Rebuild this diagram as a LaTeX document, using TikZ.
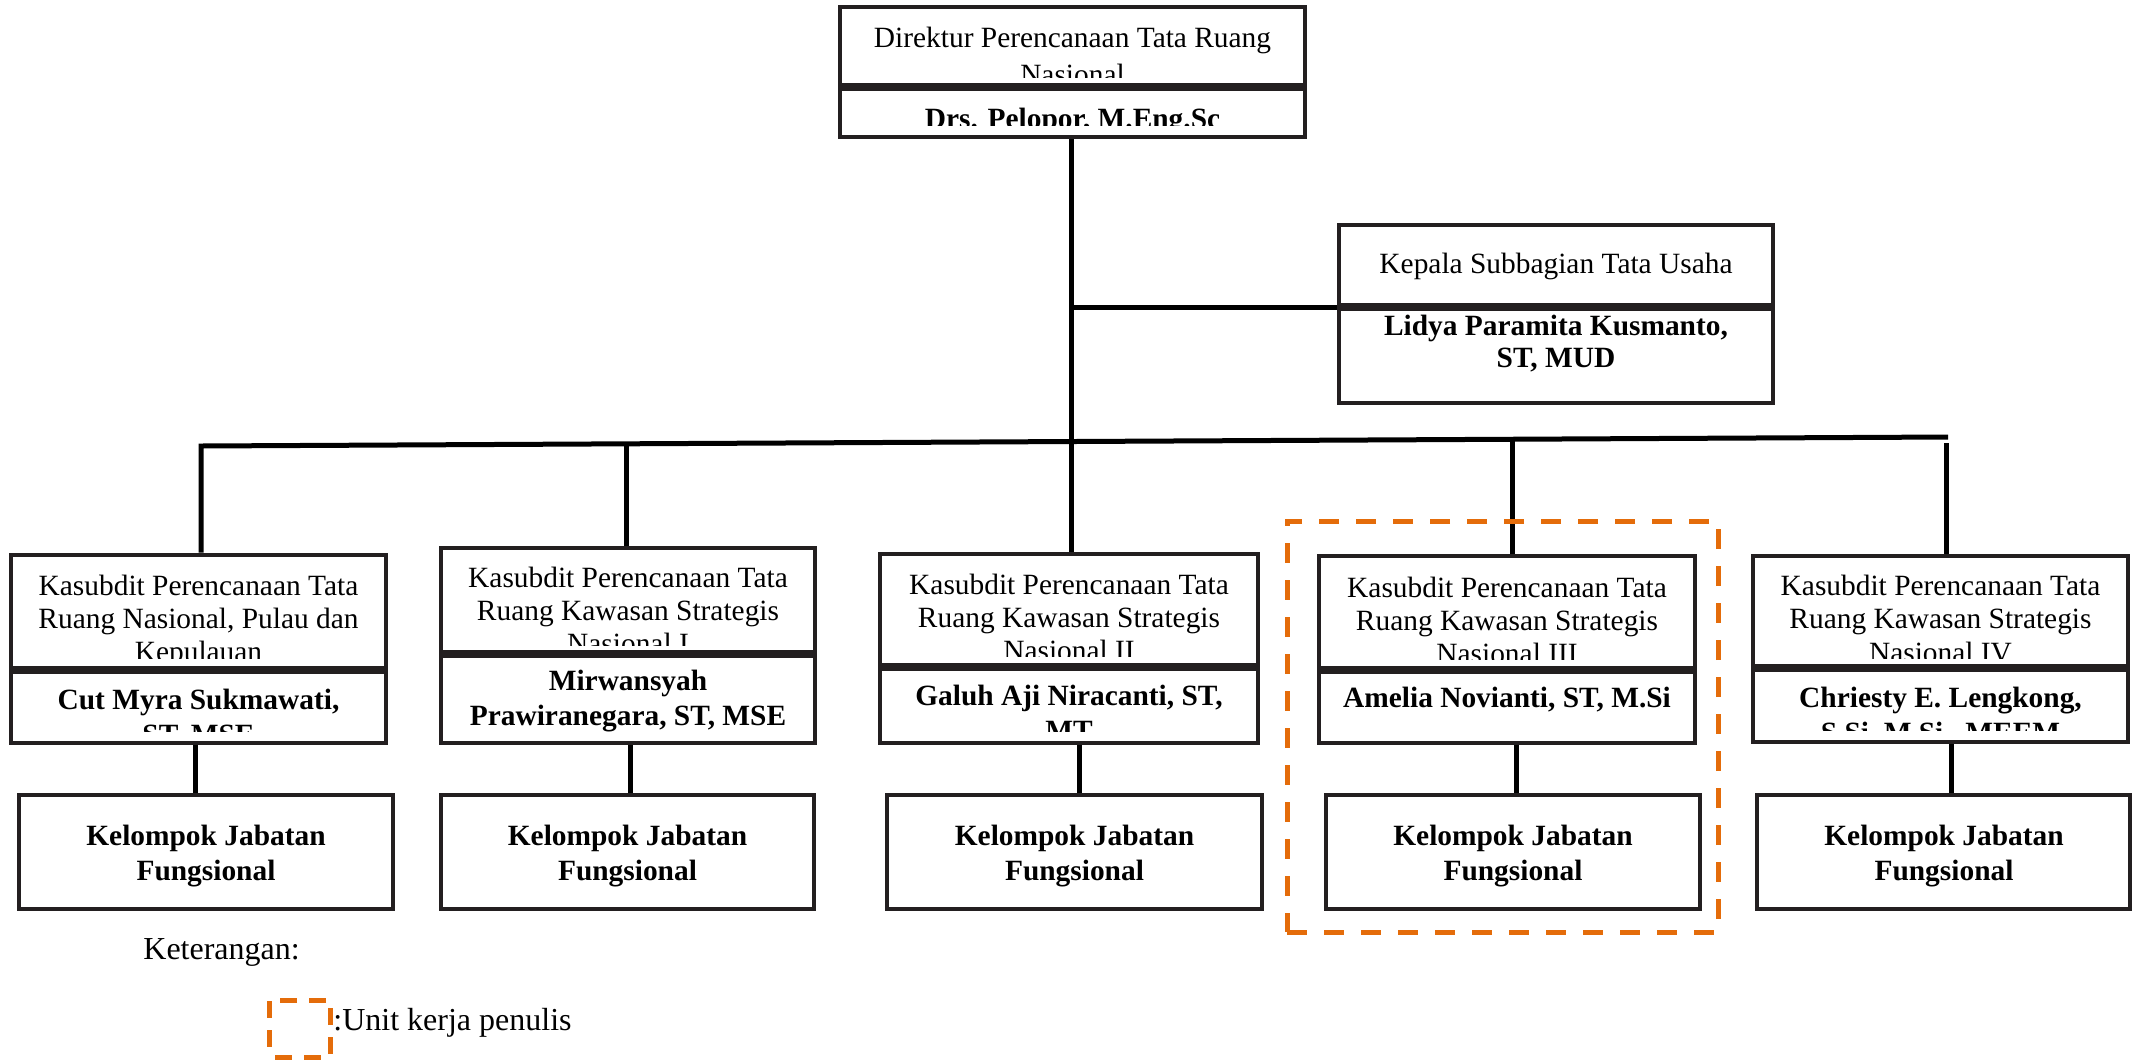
\documentclass[tikz,border=0pt]{standalone}
\usepackage{fontspec}
\setmainfont{Liberation Serif}
\usetikzlibrary{fit}
\definecolor{boxc}{RGB}{35,31,32}
\definecolor{unitor}{RGB}{228,108,10}
\newcommand{\cliptext}[9]{\begin{scope}\clip (#2,#3) rectangle (#4,#5);\node[#8] (#1) at (#6,#7) {\parbox[t]{200pt}{\centering #9}};\end{scope}}
\tikzset{
  comp/.style={draw=boxc, line width=2.4pt, inner sep=0pt},
  conn/.style={draw=black, line width=2.5pt},
  rtxt/.style={anchor=base, inner sep=0pt, font=\fontsize{14.7}{16.5}\selectfont},
  btxt/.style={anchor=base, inner sep=0pt, font=\fontsize{14.7}{17.5}\selectfont\bfseries},
  unitbox/.style={draw=unitor, line width=2.5pt, dash pattern=on 10pt off 8.5pt, inner sep=0pt},
  legtxt/.style={inner sep=0pt, font=\fontsize{16}{19}\selectfont}
}
\begin{document}
\begin{tikzpicture}[x=0.5pt,y=-0.5pt]
\useasboundingbox (0,0) rectangle (2134,1061);
% ---- compartments
\node[comp, fit={(840,7) (1305,85.5)}] (dirA) {};
\node[comp, fit={(840,88.5) (1305,137)}] (dirB) {};
\node[comp, fit={(1339,225) (1773,305.5)}] (kepA) {};
\node[comp, fit={(1339,308.5) (1773,403)}] (kepB) {};
\node[comp, fit={(11,555) (386,668.5)}] (k1A) {};
\node[comp, fit={(11,671.5) (386,743)}] (k1B) {};
\node[comp, fit={(441,548) (815,652.5)}] (k2A) {};
\node[comp, fit={(441,655.5) (815,743)}] (k2B) {};
\node[comp, fit={(880,554) (1258,665.5)}] (k3A) {};
\node[comp, fit={(880,668.5) (1258,743)}] (k3B) {};
\node[comp, fit={(1319,556) (1695,668.5)}] (k4A) {};
\node[comp, fit={(1319,671.5) (1695,743)}] (k4B) {};
\node[comp, fit={(1753,556) (2128,666.5)}] (k5A) {};
\node[comp, fit={(1753,669.5) (2128,742)}] (k5B) {};
\node[comp, fit={(19,795) (393,909)}] (g1) {};
\node[comp, fit={(441,795) (814,909)}] (g2) {};
\node[comp, fit={(887,795) (1262,909)}] (g3) {};
\node[comp, fit={(1326,795) (1700,909)}] (g4) {};
\node[comp, fit={(1757,795) (2130,909)}] (g5) {};
% ---- texts
\cliptext{tdirA}{843}{10}{1302}{77}{1072.5}{47}{rtxt,font=\fontsize{14.7}{18.5}\selectfont}{Direktur Perencanaan Tata Ruang\\Nasional}
\cliptext{tdirB}{843}{91}{1302}{125}{1072.5}{128}{btxt}{Drs. Pelopor, M.Eng.Sc}
\cliptext{tkepA}{1342}{228}{1770}{303}{1556}{273}{rtxt}{Kepala Subbagian Tata Usaha}
\cliptext{tkepB}{1342}{311}{1770}{398}{1556}{335}{btxt,font=\fontsize{14.7}{16}\selectfont\bfseries}{Lidya Paramita Kusmanto,\\ST, MUD}
\cliptext{tk1A}{14}{558}{383}{658}{198.5}{595}{rtxt}{Kasubdit Perencanaan Tata\\Ruang Nasional, Pulau dan\\Kepulauan}
\cliptext{tk1B}{14}{674}{383}{731}{198.5}{709}{btxt}{Cut Myra Sukmawati,\\ST, MSE}
\cliptext{tk2A}{444}{551}{812}{645}{628}{587}{rtxt}{Kasubdit Perencanaan Tata\\Ruang Kawasan Strategis\\Nasional I}
\cliptext{tk2B}{444}{658}{812}{731}{628}{690}{btxt}{Mirwansyah\\Prawiranegara, ST, MSE}
\cliptext{tk3A}{883}{557}{1255}{656}{1069}{594}{rtxt}{Kasubdit Perencanaan Tata\\Ruang Kawasan Strategis\\Nasional II}
\cliptext{tk3B}{883}{671}{1255}{731}{1069}{705}{btxt}{Galuh Aji Niracanti, ST,\\MT}
\cliptext{tk4A}{1322}{559}{1692}{659}{1507}{597}{rtxt}{Kasubdit Perencanaan Tata\\Ruang Kawasan Strategis\\Nasional III}
\cliptext{tk4B}{1322}{674}{1692}{731}{1507}{707}{btxt}{Amelia Novianti, ST, M.Si}
\cliptext{tk5A}{1756}{559}{2125}{658}{1940.5}{595}{rtxt,font=\fontsize{14.7}{16.9}\selectfont}{Kasubdit Perencanaan Tata\\Ruang Kawasan Strategis\\Nasional IV}
\cliptext{tk5B}{1756}{672}{2125}{730}{1940.5}{707}{btxt}{Chriesty E. Lengkong,\\S.Si, M.Si., MEEM}
\node[btxt] (tg1) at (206,845) {\parbox[t]{200pt}{\centering Kelompok Jabatan\\Fungsional}};
\node[btxt] (tg2) at (627.5,845) {\parbox[t]{200pt}{\centering Kelompok Jabatan\\Fungsional}};
\node[btxt] (tg3) at (1074.5,845) {\parbox[t]{200pt}{\centering Kelompok Jabatan\\Fungsional}};
\node[btxt] (tg4) at (1513,845) {\parbox[t]{200pt}{\centering Kelompok Jabatan\\Fungsional}};
\node[btxt] (tg5) at (1944,845) {\parbox[t]{200pt}{\centering Kelompok Jabatan\\Fungsional}};
% ---- connectors
\coordinate (m) at (1071,0);
\coordinate (hL) at (201,446);
\coordinate (j2) at (626,443.8);
\coordinate (j4) at (1512,439.2);
\coordinate (hR) at (1946,437);
\draw[conn] (m |- dirB.south) -- (m |- k3A.north);
\draw[conn] (m |- kepA.south) -- (kepA.south west);
\draw[conn, line join=miter] (k1A.north -| hL) -- (hL) -- ([xshift=1pt]hR);
\draw[conn] (j2) -- (j2 |- k2A.north);
\draw[conn] (j4) -- (j4 |- k4A.north);
\draw[conn] ([yshift=-3pt]hR) -- (hR |- k5A.north);
\coordinate (c1) at (195,0);
\coordinate (c2) at (630,0);
\coordinate (c3) at (1079,0);
\coordinate (c4) at (1516,0);
\coordinate (c5) at (1951,0);
\draw[conn] (c1 |- k1B.south) -- (c1 |- g1.north);
\draw[conn] (c2 |- k2B.south) -- (c2 |- g2.north);
\draw[conn] (c3 |- k3B.south) -- (c3 |- g3.north);
\draw[conn] (c4 |- k4B.south) -- (c4 |- g4.north);
\draw[conn] (c5 |- k5B.south) -- (c5 |- g5.north);
% ---- unit box and legend
\node[unitbox, fit={(1287,521) (1718,932)}] (unit) {};
\node[legtxt, anchor=base west] (ket) at (143,959) {Keterangan:};
\node[unitbox, dash pattern=on 8.5pt off 6pt, dash phase=-3pt, fit={(269,1000) (330,1057)}] (legsq) {};
\node[legtxt, anchor=base west] (legt) at (333,1030) {:Unit kerja penulis};
\end{tikzpicture}
\end{document}
